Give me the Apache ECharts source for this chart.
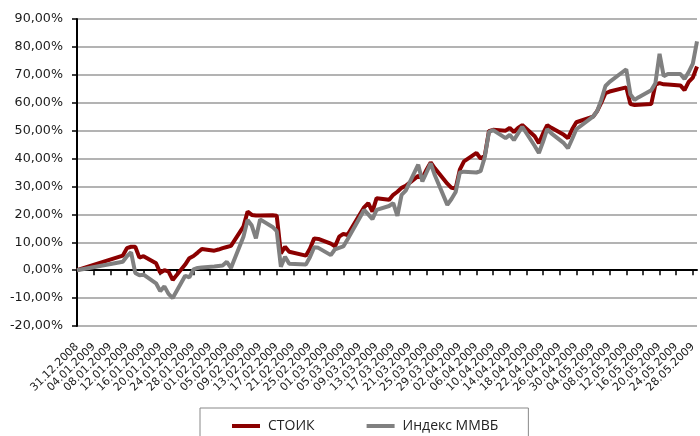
<!DOCTYPE html>
<html>
<head>
<meta charset="utf-8">
<script src="https://cdn.jsdelivr.net/npm/echarts@6/dist/echarts.min.js"></script>
<style>
html,body{margin:0;padding:0;background:#fff;}
#chart{width:700px;height:436px;}
</style>
</head>
<body>
<div id="chart"></div>
<script>
// Trading dates (dd.mm.yyyy)
var tradeDates = [
'31.12.2008','11.01.2009','12.01.2009','13.01.2009','14.01.2009','15.01.2009','16.01.2009',
'19.01.2009','20.01.2009','21.01.2009','22.01.2009','23.01.2009',
'26.01.2009','27.01.2009','28.01.2009','29.01.2009','30.01.2009',
'02.02.2009','03.02.2009','04.02.2009','05.02.2009','06.02.2009',
'09.02.2009','10.02.2009','11.02.2009','12.02.2009','13.02.2009',
'16.02.2009','17.02.2009','18.02.2009','19.02.2009','20.02.2009',
'24.02.2009','25.02.2009','26.02.2009','27.02.2009',
'02.03.2009','03.03.2009','04.03.2009','05.03.2009','06.03.2009',
'10.03.2009','11.03.2009','12.03.2009','13.03.2009',
'16.03.2009','17.03.2009','18.03.2009','19.03.2009','20.03.2009',
'23.03.2009','24.03.2009','25.03.2009','26.03.2009','27.03.2009',
'30.03.2009','31.03.2009','01.04.2009','02.04.2009','03.04.2009',
'06.04.2009','07.04.2009','08.04.2009','09.04.2009','10.04.2009',
'13.04.2009','14.04.2009','15.04.2009','16.04.2009','17.04.2009',
'20.04.2009','21.04.2009','22.04.2009','23.04.2009','24.04.2009',
'27.04.2009','28.04.2009','29.04.2009','30.04.2009',
'04.05.2009','05.05.2009','06.05.2009','07.05.2009','08.05.2009',
'12.05.2009','13.05.2009','14.05.2009','15.05.2009',
'18.05.2009','19.05.2009','20.05.2009','21.05.2009','22.05.2009',
'25.05.2009','26.05.2009','27.05.2009','28.05.2009','29.05.2009'
];
// СТОИК, % change since 31.12.2008
var stoik = [
0, 5.2, 7.9, 8.4, 8.4, 4.5, 5.0,
2.5, -0.9, 0.0, -0.5, -3.5,
2.0, 4.3, 5.1, 6.3, 7.6,
7.0, 7.4, 7.9, 8.3, 8.7,
15.6, 21.0, 19.8, 19.6, 19.6,
19.7, 19.5, 6.0, 8.4, 6.6,
5.2, 7.8, 11.4, 11.2,
9.5, 8.5, 12.0, 13.0, 12.6,
22.5, 24.0, 21.0, 25.8,
25.2, 27.0, 28.1, 29.5, 30.2,
33.8, 33.0, 36.0, 38.6, 36.5,
31.0, 29.5, 29.3, 36.0, 39.0,
42.0, 40.0, 41.0, 49.8, 50.3,
50.0, 51.0, 49.5, 51.0, 52.0,
48.0, 45.5, 49.0, 52.0, 51.0,
48.5, 47.3, 50.5, 53.0,
55.0, 57.0, 60.0, 63.4, 64.0,
65.5, 59.5, 59.2, 59.3,
59.5, 66.5, 67.0, 66.6, 66.5,
66.2, 64.5, 67.5, 69.0, 73.0
];
// Индекс ММВБ, % change since 31.12.2008
var micex = [
0, 3.0, 5.0, 6.4, -1.0, -1.8, -1.6,
-4.7, -7.5, -5.8, -8.5, -10.0,
-2.0, -2.6, 0.3, 0.8, 1.0,
1.3, 1.5, 1.7, 3.0, 0.8,
12.0, 18.0, 16.0, 11.4, 18.2,
15.5, 14.0, 1.2, 4.8, 2.3,
2.0, 4.7, 8.2, 8.0,
5.4, 7.5, 8.0, 8.5, 11.0,
21.6, 20.0, 18.3, 21.6,
23.0, 24.0, 19.5, 27.0, 28.5,
37.8, 31.8, 35.0, 38.3, 34.0,
23.4, 25.5, 28.0, 35.0, 35.3,
35.0, 35.5, 40.5, 49.5, 50.2,
47.3, 48.5, 46.6, 49.0, 51.4,
44.5, 42.0, 46.0, 50.5, 49.0,
45.5, 43.7, 47.0, 50.5,
55.0, 57.0, 61.0, 66.0, 67.5,
72.0, 63.0, 61.0, 62.0,
64.5, 67.0, 77.5, 69.5, 70.3,
70.3, 68.5, 71.0, 74.0, 82.0
];
var seriesNames = ['СТОИК', 'Индекс ММВБ'];
var yTicks = { min: -20, max: 90, step: 10 };

// calendar-day categories 31.12.2008 .. 29.05.2009 (labels every 4th day)
function fmt(d){
  var dd = ('0' + d.getDate()).slice(-2), mm = ('0' + (d.getMonth() + 1)).slice(-2);
  return dd + '.' + mm + '.' + d.getFullYear();
}
var categories = [];
for (var d = new Date(2008, 11, 31); d <= new Date(2009, 4, 29); d.setDate(d.getDate() + 1)) {
  categories.push(fmt(d));
}
function fill(vals){
  var arr = categories.map(function(){ return null; });
  tradeDates.forEach(function(t, i){ arr[categories.indexOf(t)] = vals[i]; });
  return arr;
}
var every4 = function(idx){ return idx % 4 === 0; };

var chart = echarts.init(document.getElementById('chart'));
chart.setOption({
  animation: false,
  backgroundColor: '#fff',
  grid: { left: 77, right: 3, top: 19, bottom: 110, containLabel: false },
  legend: {
    data: seriesNames,
    left: 200, top: 408,
    icon: 'rect', itemWidth: 28, itemHeight: 4, itemGap: 52,
    padding: [10, 30, 20, 32],
    borderColor: '#888', borderWidth: 1,
    textStyle: { fontFamily: 'Open Sans', fontSize: 14, color: '#222', lineHeight: 16, padding: [0, 0, 0, 3] }
  },
  xAxis: {
    type: 'category', data: categories, boundaryGap: false,
    axisLine: { lineStyle: { color: '#000', width: 2 } },
    axisTick: { interval: every4, length: 5, lineStyle: { color: '#000', width: 1.5 } },
    axisLabel: { interval: every4, rotate: 45, margin: 19, hideOverlap: false,
      fontFamily: 'DejaVu Sans', fontSize: 11, color: '#1a1a1a' },
    splitLine: { show: false }
  },
  yAxis: {
    type: 'value', min: yTicks.min, max: yTicks.max, interval: yTicks.step,
    axisLine: { show: true, lineStyle: { color: '#000', width: 2 } },
    axisTick: { show: true, length: 5, lineStyle: { color: '#000', width: 1.5 } },
    axisLabel: { margin: 14, fontFamily: 'DejaVu Sans', fontSize: 12.7, color: '#1a1a1a',
      formatter: function(v){ return v.toFixed(2).replace('.', ',') + '%'; } },
    splitLine: { lineStyle: { color: '#9a9a9a', width: 1.5 } }
  },
  series: [
    { name: seriesNames[0], type: 'line', data: fill(stoik), connectNulls: true, showSymbol: false, symbol: 'none',
      lineStyle: { color: '#8b0000', width: 4 }, itemStyle: { color: '#8b0000' } },
    { name: seriesNames[1], type: 'line', data: fill(micex), connectNulls: true, showSymbol: false, symbol: 'none',
      lineStyle: { color: '#808080', width: 4 }, itemStyle: { color: '#808080' } }
  ]
});
</script>
</body>
</html>
